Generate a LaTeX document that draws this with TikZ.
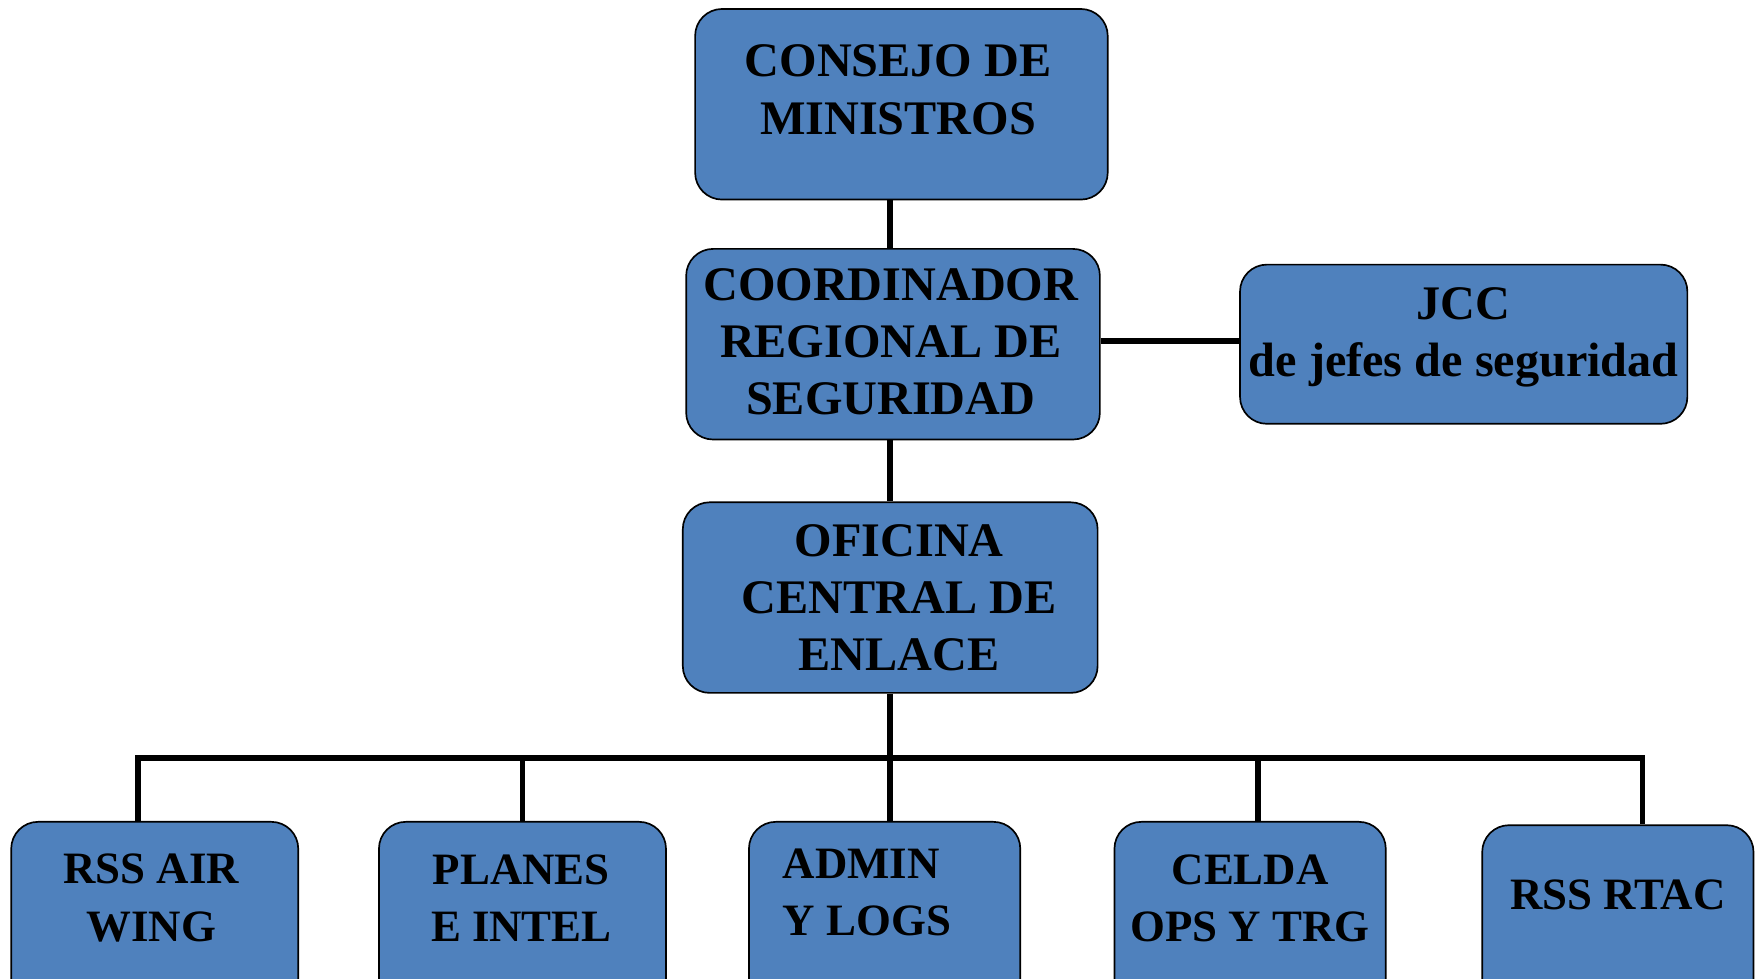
\documentclass[tikz,border=0pt]{standalone}
\usepackage{fontspec}
\setmainfont{Liberation Serif}
\definecolor{boxblue}{HTML}{4F81BD}
\begin{document}
\begin{tikzpicture}[x=1pt,y=-1pt,
  box/.style={draw=black, line width=1.5pt, fill=boxblue, rounded corners=24pt, inner sep=0pt},
  toptxt/.style={font=\bfseries\fontsize{43}{51}\selectfont, align=center, inner sep=0pt},
  bottxt/.style={font=\bfseries\fontsize{40}{51}\selectfont, align=center, inner sep=0pt},
  conn/.style={line width=5pt}]
\clip (0,0) rectangle (1568,873);
\useasboundingbox (0,0) rectangle (1568,873);
% boxes
\node[box, minimum width=368pt, minimum height=170pt] (cm) at (804,93) {};
\node[box, minimum width=369pt, minimum height=170pt] (cr) at (796.5,307) {};
\node[box, minimum width=399pt, minimum height=142pt] (jcc) at (1305.5,307) {};
\node[box, minimum width=370pt, minimum height=170pt] (of) at (794,533) {};
\node[box, minimum width=256pt, minimum height=170pt] (air) at (138,818) {};
\node[box, minimum width=256pt, minimum height=170pt] (pl) at (466,818) {};
\node[box, minimum width=242pt, minimum height=170pt] (ad) at (789,818) {};
\node[box, minimum width=242pt, minimum height=170pt] (ce) at (1115,818) {};
\node[box, minimum width=242pt, minimum height=170pt] (rt) at (1443,821) {};
% texts
\node[toptxt] (tcm) at ([xshift=-3pt,yshift=13pt]cm.center) {CONSEJO DE\\MINISTROS};
\node[toptxt] (tcr) at ([xshift=-2pt,yshift=2pt]cr.center) {COORDINADOR\\REGIONAL DE\\SEGURIDAD};
\node[toptxt] (tjcc) at ([yshift=6pt]jcc.center) {JCC\\de jefes de seguridad};
\node[toptxt] (tof) at ([xshift=8pt]of.center) {OFICINA\\CENTRAL DE\\ENLACE};
\node[bottxt] (tair) at ([xshift=-3pt,yshift=17pt]air.center) {RSS AIR\\WING};
\node[bottxt] (tpl) at ([xshift=-1pt,yshift=17pt]pl.center) {PLANES\\E INTEL};
\node[bottxt, align=left, anchor=west] (tad) at ([yshift=22pt]ad.west -| 698,0) {ADMIN\\Y LOGS};
\node[bottxt] (tce) at ([yshift=17pt]ce.center) {CELDA\\OPS Y TRG};
\node[bottxt] (trt) at ([yshift=23pt]rt.center) {RSS RTAC};
% connectors
\coordinate (mx) at (794,0);
\draw[conn] (cm.south -| mx) -- (cr.north -| mx);
\draw[conn] (cr.south -| mx) -- (of.north -| mx);
\draw[conn] (cr.east |- 0,304) -- (jcc.west |- 0,304);
\coordinate (bus) at (794,676);
\coordinate (d1) at (123,676);
\coordinate (d2) at (466,676);
\coordinate (d4) at (1122,676);
\coordinate (d5) at (1465,676);
\draw[conn] (of.south) -- (ad.north -| of.south);
\draw[conn] ([xshift=-2.5pt]d1) -- ([xshift=2.5pt]d5);
\draw[conn] (d1) -- (d1 |- air.north);
\draw[conn] (d2) -- (d2 |- pl.north);
\draw[conn] (d4) -- (d4 |- ce.north);
\draw[conn] (d5) -- (d5 |- rt.north);
\end{tikzpicture}
\end{document}
